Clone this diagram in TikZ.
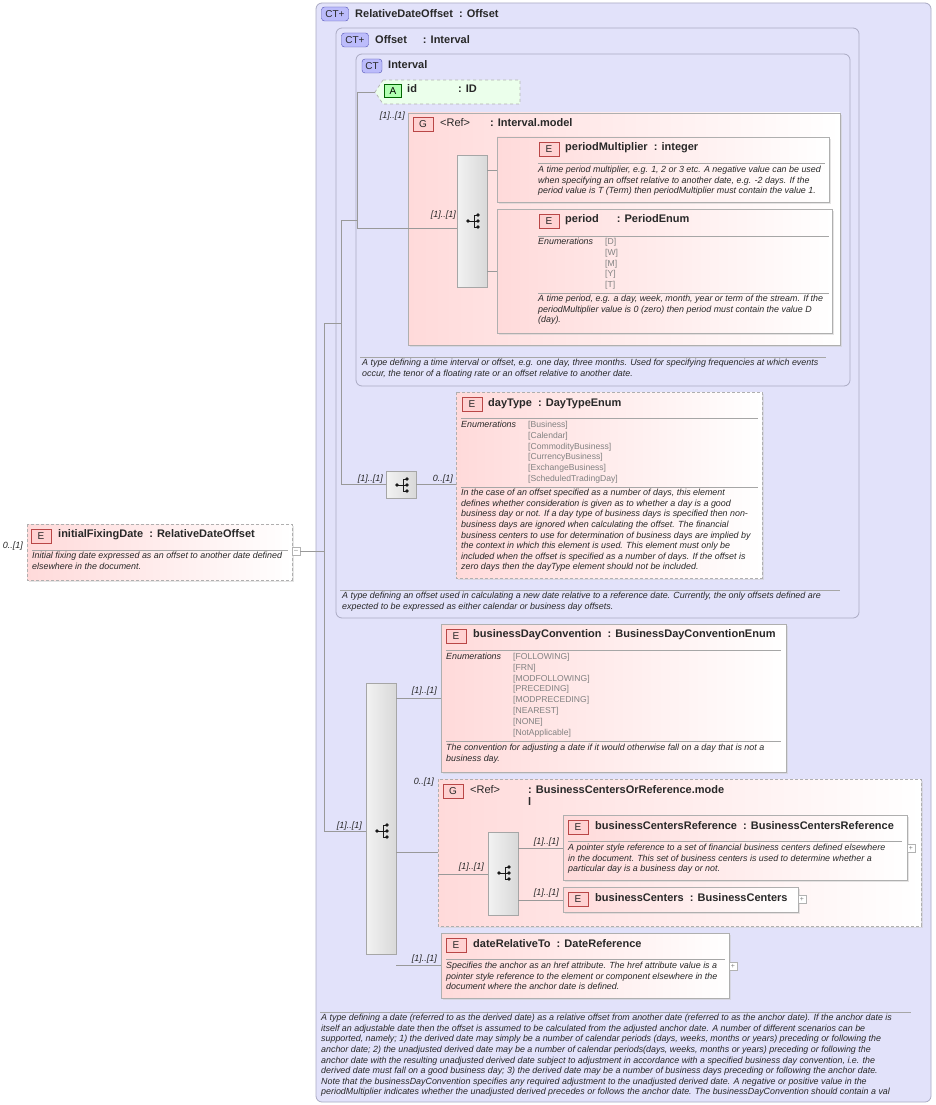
\documentclass[tikz,border=0pt]{standalone}
\usepackage{fontspec}
\setmainfont{Liberation Sans}
\usetikzlibrary{shadows,calc}
\definecolor{lav}{RGB}{226,226,250}
\definecolor{lavb}{RGB}{170,170,195}
\definecolor{pinkf}{RGB}{255,218,218}
\definecolor{boxb}{RGB}{175,175,175}
\definecolor{enumc}{RGB}{130,130,130}
\definecolor{txt}{RGB}{40,40,40}
\tikzset{
 ct/.style={draw=lavb,fill=lav,rounded corners=6pt,line width=0.8pt},
 el/.style={draw=boxb,left color=pinkf,right color=white,line width=0.7pt,drop shadow={shadow xshift=2pt,shadow yshift=-2pt,fill=gray!40}},
 eld/.style={el,dashed,dash pattern=on 3pt off 2pt},
 t/.style={anchor=west,inner sep=0pt,text=txt,font=\fontsize{11}{12}\selectfont\bfseries},
 d/.style={anchor=north west,inner sep=0pt,text=txt,font=\fontsize{8.9}{10.6}\selectfont\itshape,align=left},
 en/.style={anchor=north west,inner sep=0pt,text=enumc,font=\fontsize{8.6}{10.8}\selectfont,align=left},
 m/.style={anchor=east,inner sep=0pt,text=txt,font=\fontsize{9}{10}\selectfont\itshape},
 ln/.style={draw=gray!80,line width=0.6pt},
 sep/.style={draw=gray!70,line width=0.6pt},
 bE/.style={draw=red!45!gray,fill=red!18,inner sep=0pt,minimum width=20pt,minimum height=14pt,font=\fontsize{10}{10}\selectfont,text=txt},
 bCT/.style={draw=blue!40!gray,fill=lav!80!blue!90,rounded corners=3pt,inner sep=0pt,minimum width=27pt,minimum height=14pt,font=\fontsize{10}{10}\selectfont,text=txt},
 seq/.style={draw=gray!70,left color=gray!10,right color=gray!30,line width=0.6pt},
 plusb/.style={draw=gray!60,fill=white,inner sep=0pt,minimum size=8pt,font=\fontsize{7}{7}\selectfont,text=gray}
}
\newcommand{\seqicon}[1]{%
 \fill[gray!20!black] ($(#1)+(-6,0)$) circle (1.8pt);
 \draw[gray!20!black,line width=0.8pt] ($(#1)+(-6,0)$)--($(#1)+(0,0)$) ($(#1)+(0,-6)$)--($(#1)+(0,6)$) ($(#1)+(0,-6)$)--($(#1)+(4,-6)$) ($(#1)+(0,0)$)--($(#1)+(4,0)$) ($(#1)+(0,6)$)--($(#1)+(4,6)$);
 \fill[gray!20!black] ($(#1)+(4,-6)$) circle (1.8pt) ($(#1)+(4,0)$) circle (1.8pt) ($(#1)+(4,6)$) circle (1.8pt);}
\begin{document}
\begin{tikzpicture}[x=1pt,y=-1pt]
\useasboundingbox (0,0) rectangle (935,1105);
% containers
\draw[ct] (316,3) rectangle (931,1102);
\node[bCT] (b1) at (335,14) {CT+};
\node[t] (n1) at (355,14) {RelativeDateOffset\ \ : Offset};
\draw[ct] (336,28) rectangle (859,618);
\node[bCT] (b2) at (355,40) {CT+};
\node[t] (n2) at (375,40) {Offset\hspace{16pt}: Interval};
\draw[ct] (356,54) rectangle (850,386);
\node[bCT,minimum width=20pt] (b3) at (372,66) {CT};
\node[t] (n3) at (388,65) {Interval};
% id attribute
\draw[draw=gray!60,fill=green!8,dashed,line width=0.7pt] (383,80)--(520,80)--(520,104)--(383,104)--(375,92)--cycle;
\node[draw=green!40!black,fill=green!30,inner sep=0pt,minimum width=17pt,minimum height=13pt,font=\fontsize{10}{10}\selectfont] (bA) at (393,91) {A};
\node[t] (nid) at (407,89) {id};
\node[t] (nidt) at (458,89) {: ID};
% Interval.model group
\draw[el] (408,113) rectangle (840,345);
\node[bE] (bG1) at (423,124) {G};
\node[t] (nG1) at (440,123) {\mdseries<Ref>\hspace{20pt}\bfseries: Interval.model};
\draw[seq] (457,155) rectangle (487,287);
\coordinate (s1) at (474,221); \seqicon{s1}
\node[m] at (405,116) {[1]..[1]};
\node[m] at (456,215) {[1]..[1]};
\node[m] at (530,164) {[1]..[1]};
\node[m] at (530,265) {[1]..[1]};
% periodMultiplier
\draw[el] (497,137) rectangle (829,202);
\node[bE] at (549,149) {E};
\node[t] at (565,148) {periodMultiplier\ \ : integer};
\draw[sep] (538,163)--(825,163);
\node[d] at (538,166) {A time period multiplier, e.g. 1, 2 or 3 etc. A negative value can be used\\when specifying an offset relative to another date, e.g. -2 days. If the\\period value is T (Term) then periodMultiplier must contain the value 1.};
% period
\draw[el] (497,209) rectangle (832,333);
\node[bE] at (549,221) {E};
\node[t] at (565,220) {period\hspace{18pt}: PeriodEnum};
\draw[sep] (538,236)--(829,236);
\node[d] at (538,238) {Enumerations};
\node[en] at (605,238) {[D]\\{}[W]\\{}[M]\\{}[Y]\\{}[T]};
\draw[sep] (538,293)--(829,293);
\node[d] at (538,295) {A time period, e.g. a day, week, month, year or term of the stream. If the\\periodMultiplier value is 0 (zero) then period must contain the value D\\(day).};
\draw[ln] (487,170)--(497,170) (487,271)--(497,271);
\draw[ln] (357,92)--(375,92) (357,92)--(357,228)--(457,228);
\draw[sep] (360,357)--(826,357);
\node[d] at (362,359) {A type defining a time interval or offset, e.g. one day, three months. Used for specifying frequencies at which events\\occur, the tenor of a floating rate or an offset relative to another date.};
% dayType
\draw[eld] (456,392) rectangle (762,578);
\node[bE] at (472,404) {E};
\node[t] at (488,404) {dayType\ \ : DayTypeEnum};
\draw[sep] (461,418)--(758,418);
\node[d] at (461,421) {Enumerations};
\node[en] at (528,421) {[Business]\\{}[Calendar]\\{}[CommodityBusiness]\\{}[CurrencyBusiness]\\{}[ExchangeBusiness]\\{}[ScheduledTradingDay]};
\draw[sep] (461,487)--(758,487);
\node[d] at (461,489) {In the case of an offset specified as a number of days, this element\\defines whether consideration is given as to whether a day is a good\\business day or not. If a day type of business days is specified then non-\\business days are ignored when calculating the offset. The financial\\business centers to use for determination of business days are implied by\\the context in which this element is used. This element must only be\\included when the offset is specified as a number of days. If the offset is\\zero days then the dayType element should not be included.};
\draw[seq] (386,471) rectangle (416,498);
\coordinate (s2) at (403,485); \seqicon{s2}
\node[m] at (383,479) {[1]..[1]};
\node[m] at (453,479) {0..[1]};
\draw[ln] (341,220)--(357,220) (341,220)--(341,484)--(386,484) (416,484)--(456,484);
\draw[sep] (340,590)--(840,590);
\node[d] at (342,592) {A type defining an offset used in calculating a new date relative to a reference date. Currently, the only offsets defined are\\expected to be expressed as either calendar or business day offsets.};
% initialFixingDate
\draw[eld] (27,524) rectangle (292,580);
\node[bE] (bI) at (41,536) {E};
\node[t] (nI) at (58,535) {initialFixingDate\ \ : RelativeDateOffset};
\draw[sep] (32,550)--(288,550);
\node[d] at (32,552) {Initial fixing date expressed as an offset to another date defined\\elsewhere in the document.};
\node[m] at (23,546) {0..[1]};
\node[plusb] (mI) at (296,551) {--};
\draw[ln] (300,551)--(324,551) (324,323)--(324,831)--(366,831) (324,323)--(341,323);
\node[m] at (362,826) {[1]..[1]};
% big sequence
\draw[seq] (366,683) rectangle (396,954);
\coordinate (s3) at (383,831); \seqicon{s3}
% businessDayConvention
\draw[el] (441,624) rectangle (786,772);
\node[bE] at (456,636) {E};
\node[t] at (473,635) {businessDayConvention\ \ : BusinessDayConventionEnum};
\draw[sep] (446,650)--(781,650);
\node[d] at (446,653) {Enumerations};
\node[en] at (513,653) {[FOLLOWING]\\{}[FRN]\\{}[MODFOLLOWING]\\{}[PRECEDING]\\{}[MODPRECEDING]\\{}[NEAREST]\\{}[NONE]\\{}[NotApplicable]};
\draw[sep] (446,741)--(781,741);
\node[d] at (446,744) {The convention for adjusting a date if it would otherwise fall on a day that is not a\\business day.};
\draw[ln] (396,698)--(441,698);
\node[m] at (437,691) {[1]..[1]};
% BusinessCentersOrReference group
\draw[eld] (438,779) rectangle (921,926);
\node[m] at (434,782) {0..[1]};
\node[bE] at (453,791) {G};
\node[t,font=\fontsize{11}{12}\selectfont] at (470,790) {<Ref>};
\node[t] at (528,790) {: BusinessCentersOrReference.mode};
\node[t] at (528,802) {l};
\draw[ln] (396,852)--(438,852) (438,874)--(488,874);
\node[m] at (484,867) {[1]..[1]};
\draw[seq] (488,832) rectangle (518,915);
\coordinate (s4) at (505,873); \seqicon{s4}
\draw[el] (563,815) rectangle (907,880);
\node[bE] at (578,827) {E};
\node[t] at (595,826) {businessCentersReference\ \ : BusinessCentersReference};
\draw[sep] (568,841)--(902,841);
\node[d] at (568,844) {A pointer style reference to a set of financial business centers defined elsewhere\\in the document. This set of business centers is used to determine whether a\\particular day is a business day or not.};
\node[plusb] at (911,848) {+};
\draw[el] (563,887) rectangle (798,912);
\node[bE] at (578,899) {E};
\node[t] at (595,898) {businessCenters\ \ : BusinessCenters};
\node[plusb] at (802,899) {+};
\draw[ln] (518,848)--(563,848) (518,900)--(563,900);
\node[m] at (559,842) {[1]..[1]};
\node[m] at (559,893) {[1]..[1]};
% dateRelativeTo
\draw[el] (441,933) rectangle (729,998);
\node[bE] at (456,945) {E};
\node[t] at (473,944) {dateRelativeTo\ \ : DateReference};
\draw[sep] (446,959)--(725,959);
\node[d] at (446,962) {Specifies the anchor as an href attribute. The href attribute value is a\\pointer style reference to the element or component elsewhere in the\\document where the anchor date is defined.};
\node[plusb] at (733,966) {+};
\draw[ln] (396,965)--(441,965);
\node[m] at (437,959) {[1]..[1]};
% bottom description
\draw[sep] (320,1012)--(911,1012);
\node[d] at (321,1014) {A type defining a date (referred to as the derived date) as a relative offset from another date (referred to as the anchor date). If the anchor date is\\itself an adjustable date then the offset is assumed to be calculated from the adjusted anchor date. A number of different scenarios can be\\supported, namely; 1) the derived date may simply be a number of calendar periods (days, weeks, months or years) preceding or following the\\anchor date; 2) the unadjusted derived date may be a number of calendar periods(days, weeks, months or years) preceding or following the\\anchor date with the resulting unadjusted derived date subject to adjustment in accordance with a specified business day convention, i.e. the\\derived date must fall on a good business day; 3) the derived date may be a number of business days preceding or following the anchor date.\\Note that the businessDayConvention specifies any required adjustment to the unadjusted derived date. A negative or positive value in the\\periodMultiplier indicates whether the unadjusted derived precedes or follows the anchor date. The businessDayConvention should contain a val};
\end{tikzpicture}
\end{document}
